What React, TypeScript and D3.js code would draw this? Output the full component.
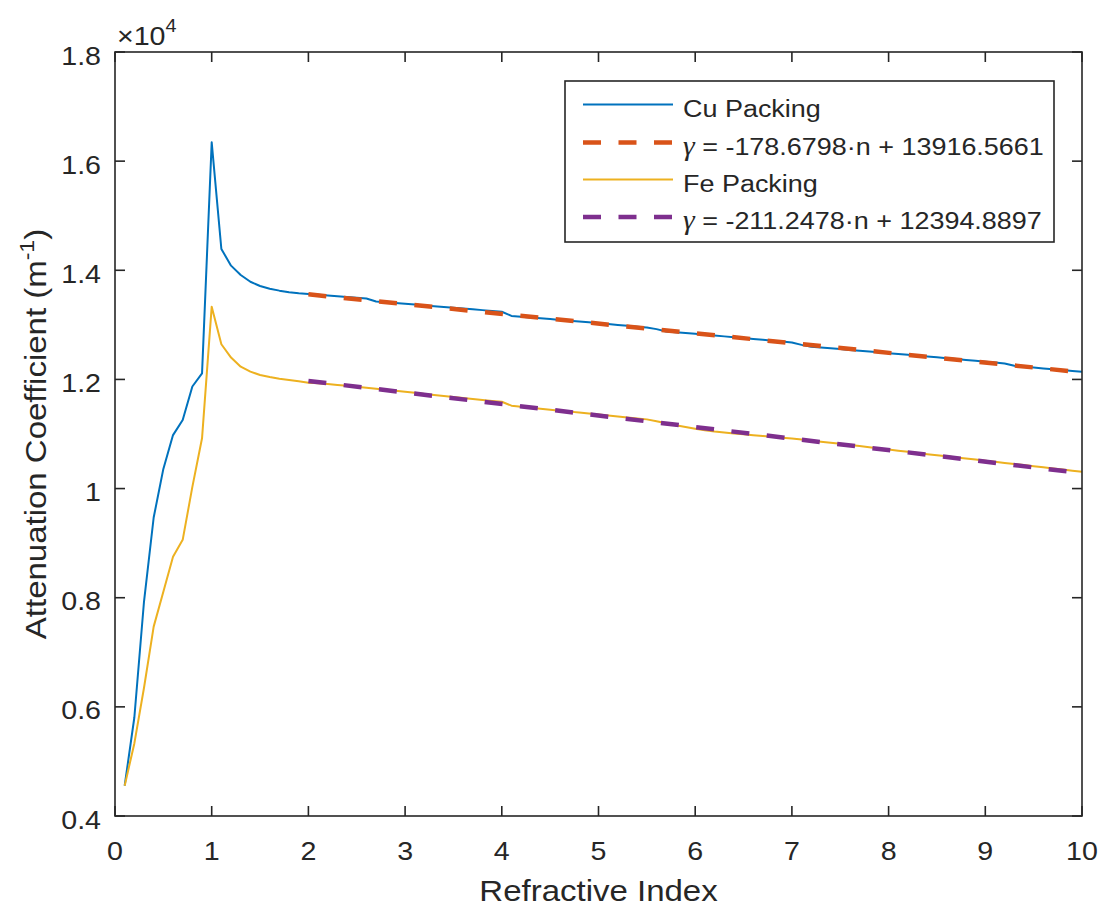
import React from "react";
import * as d3 from "d3";

// Refractive index samples (0.1 … 10.0)
const refractiveIndex = [
  0.1, 0.2, 0.3, 0.4, 0.5, 0.6, 0.7, 0.8, 0.9, 1.0,
  1.1, 1.2, 1.3, 1.4, 1.5, 1.6, 1.7, 1.8, 1.9, 2.0,
  2.1, 2.2, 2.3, 2.4, 2.5, 2.6, 2.7, 2.8, 2.9, 3.0,
  3.1, 3.2, 3.3, 3.4, 3.5, 3.6, 3.7, 3.8, 3.9, 4.0,
  4.1, 4.2, 4.3, 4.4, 4.5, 4.6, 4.7, 4.8, 4.9, 5.0,
  5.1, 5.2, 5.3, 5.4, 5.5, 5.6, 5.7, 5.8, 5.9, 6.0,
  6.1, 6.2, 6.3, 6.4, 6.5, 6.6, 6.7, 6.8, 6.9, 7.0,
  7.1, 7.2, 7.3, 7.4, 7.5, 7.6, 7.7, 7.8, 7.9, 8.0,
  8.1, 8.2, 8.3, 8.4, 8.5, 8.6, 8.7, 8.8, 8.9, 9.0,
  9.1, 9.2, 9.3, 9.4, 9.5, 9.6, 9.7, 9.8, 9.9, 10.0,
];

// Attenuation coefficient of the Cu packing (m^-1)
const cuPacking = [
  4555, 5805, 7930, 9470, 10360, 10980, 11257, 11870, 12110, 16345,
  14390, 14085, 13914, 13790, 13712, 13663, 13627, 13597, 13580, 13567,
  13553, 13538, 13524, 13510, 13496, 13482, 13429, 13414, 13400, 13386,
  13371, 13357, 13342, 13327, 13313, 13298, 13284, 13270, 13255, 13240,
  13164, 13149, 13135, 13120, 13106, 13091, 13076, 13061, 13046, 13031,
  13015, 12999, 12984, 12967, 12950, 12922, 12880, 12865, 12850, 12835,
  12820, 12804, 12789, 12773, 12757, 12741, 12725, 12710, 12693, 12676,
  12633, 12600, 12585, 12570, 12556, 12541, 12526, 12511, 12496, 12481,
  12466, 12451, 12437, 12421, 12405, 12389, 12373, 12357, 12341, 12326,
  12310, 12293, 12250, 12234, 12218, 12202, 12186, 12171, 12155, 12139,
];

// Attenuation coefficient of the Fe packing (m^-1)
const fePacking = [
  4555, 5330, 6350, 7470, 8110, 8750, 9060, 10030, 10921, 13333,
  12644, 12400, 12234, 12142, 12081, 12045, 12014, 11990, 11966, 11940,
  11929, 11915, 11900, 11884, 11867, 11849, 11831, 11812, 11792, 11773,
  11754, 11735, 11716, 11697, 11678, 11660, 11641, 11624, 11607, 11590,
  11519, 11500, 11482, 11464, 11446, 11428, 11410, 11392, 11374, 11356,
  11338, 11321, 11303, 11286, 11268, 11234, 11196, 11160, 11127, 11096,
  11068, 11045, 11028, 11011, 10995, 10979, 10964, 10948, 10932, 10916,
  10898, 10879, 10860, 10840, 10820, 10800, 10778, 10757, 10736, 10715,
  10694, 10673, 10652, 10631, 10611, 10591, 10571, 10551, 10531, 10511,
  10491, 10470, 10450, 10430, 10410, 10389, 10369, 10349, 10328, 10308,
];

// Linear fits over n in [2, 10]: slope, intercept
const fitRange = [2, 10];
const cuFit = { slope: -178.6798, intercept: 13916.5661 };
const feFit = { slope: -211.2478, intercept: 12394.8897 };

const xTicks = [0, 1, 2, 3, 4, 5, 6, 7, 8, 9, 10];
const yTicks = [4000, 6000, 8000, 10000, 12000, 14000, 16000, 18000];
const yTickLabels = ["0.4", "0.6", "0.8", "1", "1.2", "1.4", "1.6", "1.8"];

const legendLabels = ["Cu Packing", "-178.6798·n + 13916.5661", "Fe Packing", "-211.2478·n + 12394.8897"];

const COLORS = {
  cu: "#0072BD",
  cuFit: "#D95319",
  fe: "#EDB120",
  feFit: "#7E2F8E",
  axis: "#262626",
};

const FONT = "'Liberation Sans', Arial, Helvetica, sans-serif";
const SX = 1.1; // horizontal glyph stretch for the Helvetica look

const left = 115;
const right = 1082;
const top = 52;
const bottom = 816;

function T({ x, y, rotate = 0, anchor = "start", size = 26, children }: any) {
  return (
    <text
      transform={`translate(${x},${y}) rotate(${rotate}) scale(${SX},1)`}
      textAnchor={anchor}
      fontFamily={FONT}
      fontSize={size}
      fill={COLORS.axis}
    >
      {children}
    </text>
  );
}

export default function App() {
  const x = d3.scaleLinear().domain([0, 10]).range([left, right]);
  const y = d3.scaleLinear().domain([4000, 18000]).range([bottom, top]);

  const line = d3
    .line<[number, number]>()
    .x((d) => x(d[0]))
    .y((d) => y(d[1]));

  const cuPts = refractiveIndex.map((n, i) => [n, cuPacking[i]] as [number, number]);
  const fePts = refractiveIndex.map((n, i) => [n, fePacking[i]] as [number, number]);
  const fitPts = (f: { slope: number; intercept: number }) =>
    fitRange.map((n) => [n, f.slope * n + f.intercept] as [number, number]);

  const tickLen = 10;
  const dash = "18 17.5";

  // legend geometry
  const lg = { x: 565, y: 81, w: 489, h: 161 };
  const rowY = [104.5, 142.5, 179.5, 217];
  const sampleX = [583, 673];
  const textX = 683;

  const legendItems = [
    { color: COLORS.cu, width: 2, dashed: false },
    { color: COLORS.cuFit, width: 4.5, dashed: true },
    { color: COLORS.fe, width: 2, dashed: false },
    { color: COLORS.feFit, width: 4.5, dashed: true },
  ];

  return (
    <svg
      width={1101}
      height={909}
      style={{ position: "absolute", left: 0, top: 0, background: "#fff" }}
    >
      <rect x={0} y={0} width={1101} height={909} fill="#fff" />

      {/* data */}
      <g fill="none" strokeLinejoin="round">
        <path d={line(cuPts) || ""} stroke={COLORS.cu} strokeWidth={2} />
        <path d={line(fitPts(cuFit)) || ""} stroke={COLORS.cuFit} strokeWidth={4.5} strokeDasharray={dash} />
        <path d={line(fePts) || ""} stroke={COLORS.fe} strokeWidth={2} />
        <path d={line(fitPts(feFit)) || ""} stroke={COLORS.feFit} strokeWidth={4.5} strokeDasharray={dash} />
      </g>

      {/* axes box and ticks */}
      <g stroke={COLORS.axis} strokeWidth={1.6} fill="none">
        <rect x={left} y={top} width={right - left} height={bottom - top} />
        {xTicks.map((t) => (
          <g key={`xt${t}`}>
            <line x1={x(t)} x2={x(t)} y1={bottom} y2={bottom - tickLen} />
            <line x1={x(t)} x2={x(t)} y1={top} y2={top + tickLen} />
          </g>
        ))}
        {yTicks.map((t) => (
          <g key={`yt${t}`}>
            <line x1={left} x2={left + tickLen} y1={y(t)} y2={y(t)} />
            <line x1={right} x2={right - tickLen} y1={y(t)} y2={y(t)} />
          </g>
        ))}
      </g>

      {/* tick labels */}
      {xTicks.map((t) => (
        <T key={`xl${t}`} x={x(t)} y={860} anchor="middle">
          {String(t)}
        </T>
      ))}
      {yTicks.map((t, i) => (
        <T key={`yl${t}`} x={101} y={y(t) + 12.5} anchor="end">
          {yTickLabels[i]}
        </T>
      ))}

      {/* exponent */}
      <T x={117} y={45} size={26}>
        ×10
        <tspan fontSize={18} dy={-13}>4</tspan>
      </T>

      {/* axis titles */}
      <T x={(left + right) / 2} y={901} anchor="middle" size={30}>
        Refractive Index
      </T>
      <T x={46} y={(top + bottom) / 2} rotate={-90} anchor="middle" size={30}>
        Attenuation Coefficient (m
        <tspan fontSize={21} dy={-12}>-1</tspan>
        <tspan dy={12}>)</tspan>
      </T>

      {/* legend */}
      <rect x={lg.x} y={lg.y} width={lg.w} height={lg.h} fill="#fff" stroke={COLORS.axis} strokeWidth={1.6} />
      {legendItems.map((it, i) => (
        <line
          key={`ll${i}`}
          x1={sampleX[0]}
          x2={sampleX[1]}
          y1={rowY[i]}
          y2={rowY[i]}
          stroke={it.color}
          strokeWidth={it.width}
          strokeDasharray={it.dashed ? dash : undefined}
        />
      ))}
      {legendLabels.map((lab, i) => {
        const isFit = i === 1 || i === 3;
        return (
          <T key={`lt${i}`} x={textX} y={rowY[i] + 12} size={24.5}>
            {isFit ? (
              <>
                <tspan fontFamily="'Liberation Serif', 'Times New Roman', serif" fontStyle="italic" fontSize={27}>
                  γ
                </tspan>
                {" = " + lab}
              </>
            ) : (
              lab
            )}
          </T>
        );
      })}
    </svg>
  );
}
